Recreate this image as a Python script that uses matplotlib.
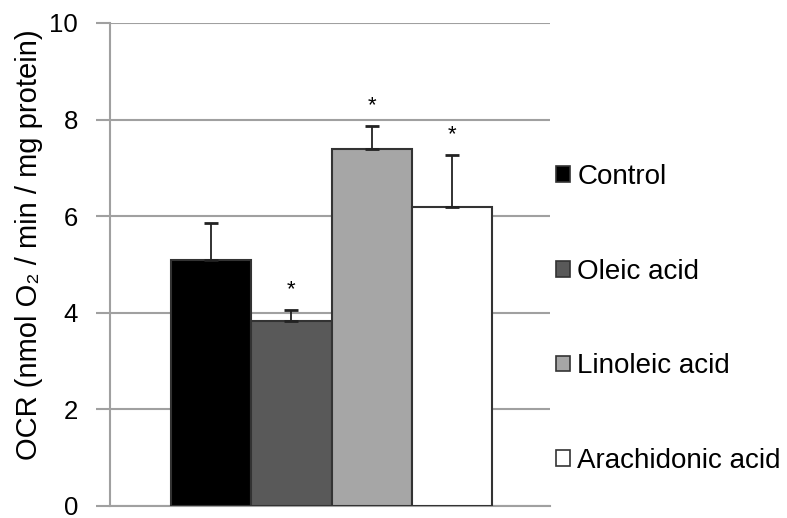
import numpy as np
import matplotlib.pyplot as plt
from matplotlib.patches import Patch

plt.rcParams['font.family'] = ['Liberation Sans', 'DejaVu Sans']

# Data
groups = ['Control', 'Oleic acid', 'Linoleic acid', 'Arachidonic acid']
ocr = [5.09, 3.83, 7.39, 6.18]
err = [0.76, 0.23, 0.48, 1.08]
signif = [False, True, True, True]
colors = ['#000000', '#595959', '#a6a6a6', '#ffffff']
yticks = [0, 2, 4, 6, 8, 10]

fig = plt.figure(figsize=(7.87, 5.18), dpi=100)
ax = fig.add_axes([0.1398, 0.0232, 0.559, 0.9324])

x = np.arange(len(groups))
ax.bar(x, ocr, width=1.0, color=colors, edgecolor='#333333', linewidth=1.5, zorder=3)
ax.errorbar(x, ocr, yerr=[np.zeros(len(err)), err], fmt='none', ecolor='#222222',
            elinewidth=1.3, capsize=5, capthick=2, zorder=4)

# significance stars
for xi, v, e, s in zip(x, ocr, err, signif):
    if s:
        ax.text(xi, v + e + 0.42, '*', ha='center', va='center', fontsize=16)

ax.set_xlim(-1.26, 4.22)
ax.set_ylim(0, 10)
ax.set_yticks(yticks)
ax.set_xticks([])
ax.yaxis.grid(True, color='#a0a0a0', linewidth=1.5, zorder=0)
ax.tick_params(axis='y', length=10, width=1.5, color='#a0a0a0', labelsize=18.5, pad=13)
for side in ['top', 'right']:
    ax.spines[side].set_visible(False)
for side in ['left', 'bottom']:
    ax.spines[side].set_color('#a0a0a0')
    ax.spines[side].set_linewidth(1.5)

ax.set_ylabel('OCR (nmol O₂ / min / mg protein)', fontsize=21)
ax.yaxis.set_label_coords(-0.152, 0.54)

handles = [Patch(facecolor=c, edgecolor='#333333', linewidth=1.2) for c in colors]
fig.legend(handles, groups, loc='upper left', bbox_to_anchor=(0.707, 0.683),
           frameon=False, fontsize=20, handlelength=0.5, handleheight=0.5,
           handletextpad=0.25, labelspacing=2.47, borderaxespad=0, borderpad=0)

fig.savefig('out.png', dpi=100)
